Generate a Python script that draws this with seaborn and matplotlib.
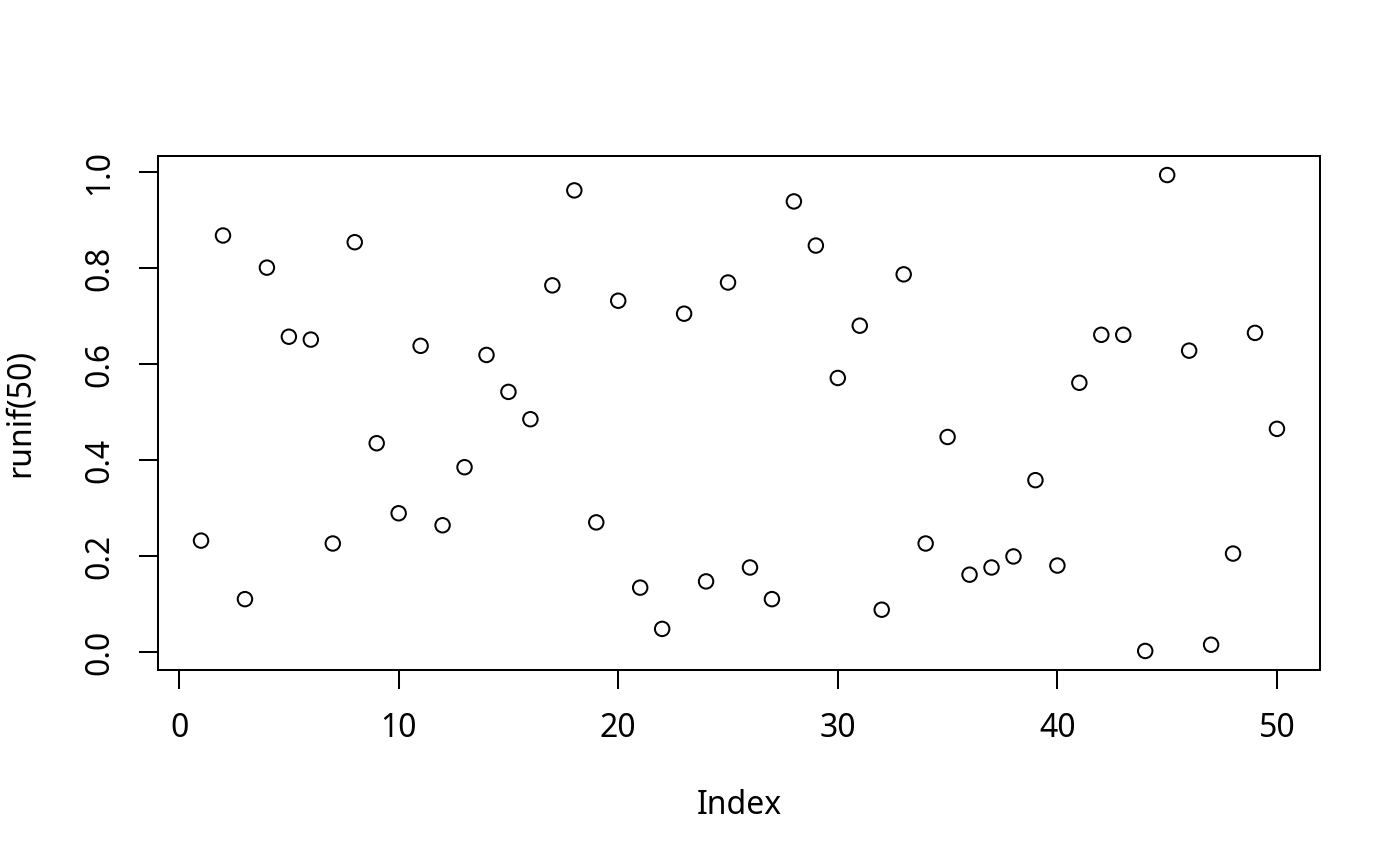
import matplotlib
matplotlib.use("Agg")
import matplotlib.pyplot as plt
import seaborn as sns
import pandas as pd
import numpy as np

index = list(range(1, 51))
values = [0.232, 0.868, 0.110, 0.801, 0.657, 0.651, 0.226, 0.854, 0.435, 0.289,
          0.638, 0.264, 0.385, 0.619, 0.542, 0.485, 0.764, 0.962, 0.270, 0.732,
          0.134, 0.048, 0.705, 0.147, 0.770, 0.176, 0.110, 0.939, 0.847, 0.571,
          0.680, 0.088, 0.787, 0.226, 0.448, 0.161, 0.176, 0.199, 0.358, 0.180,
          0.561, 0.661, 0.661, 0.002, 0.994, 0.628, 0.015, 0.205, 0.665, 0.465]
x_ticks = [0, 10, 20, 30, 40, 50]
y_ticks = [0.0, 0.2, 0.4, 0.6, 0.8, 1.0]
y_tick_labels = ["0.0", "0.2", "0.4", "0.6", "0.8", "1.0"]
x_label = "Index"
y_label = "runif(50)"

df = pd.DataFrame({"Index": index, "value": values})

sns.set_style("white")
plt.rcParams["font.family"] = ["Noto Sans", "DejaVu Sans"]

fig = plt.figure(figsize=(14, 8.66), dpi=100)
ax = fig.add_axes([158 / 1400, 1 - 670 / 866, (1320 - 158) / 1400, (670 - 156) / 866])

sns.scatterplot(data=df, x="Index", y="value", ax=ax, marker="o", s=108,
                facecolor="none", edgecolor="black", linewidth=1.45, legend=False)

xr = max(index) - min(index)
ax.set_xlim(min(index) - 0.04 * xr, max(index) + 0.04 * xr)
yr = max(values) - min(values)
ax.set_ylim(min(values) - 0.04 * yr, max(values) + 0.04 * yr)

ax.set_xticks(x_ticks)
ax.set_xticklabels([str(t) for t in x_ticks])
ax.set_yticks(y_ticks)
ax.set_yticklabels(y_tick_labels, rotation=90, va="center")

for sp in ax.spines.values():
    sp.set_visible(True)
    sp.set_color("black")
    sp.set_linewidth(1.45)

ax.tick_params(axis="both", direction="out", length=14, width=1.45, color="black",
               labelsize=23, labelcolor="black", bottom=True, left=True)
ax.tick_params(axis="x", pad=16)
ax.tick_params(axis="y", pad=16)

ax.set_xlabel(x_label, fontsize=23, color="black")
ax.set_ylabel(y_label, fontsize=23, color="black")
ax.xaxis.set_label_coords(0.5, (670 - 806) / 514)
ax.xaxis.label.set_va("center")
ax.yaxis.set_label_coords((20 - 158) / 1162, 0.5)
ax.yaxis.label.set_va("center")
ax.yaxis.label.set_ha("center")

fig.savefig("out.png", dpi=100, facecolor="white")
